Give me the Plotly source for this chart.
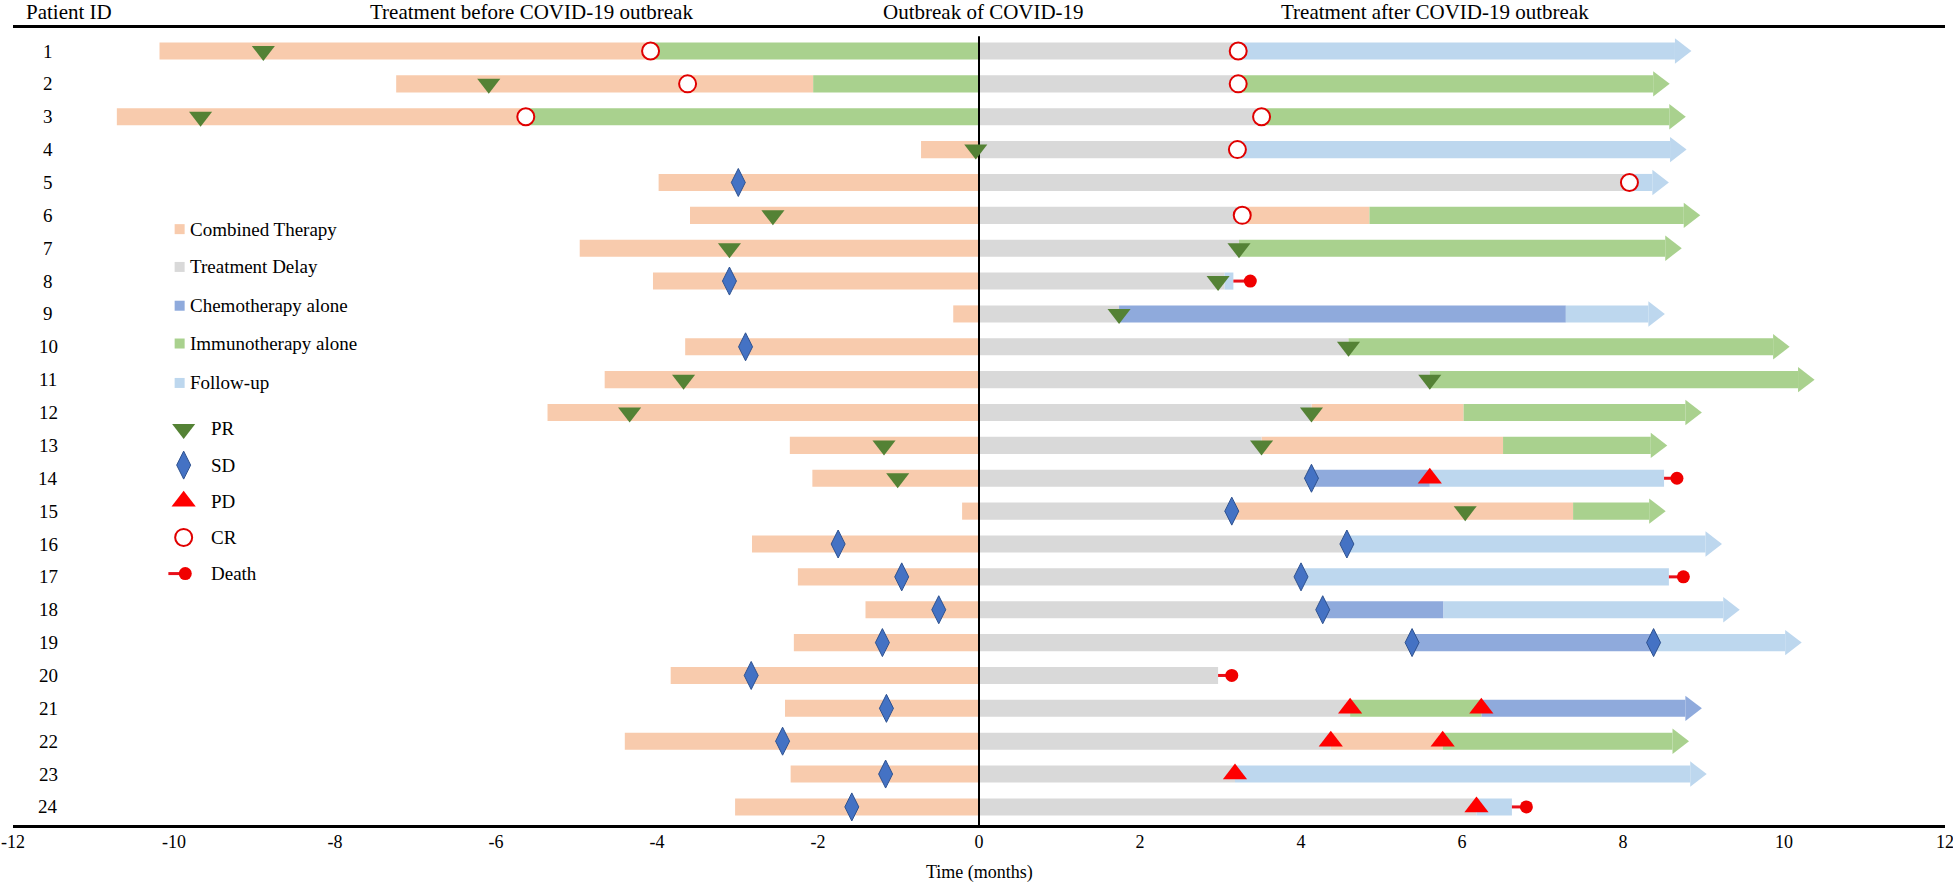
import plotly.graph_objects as go

# months relative to the COVID-19 outbreak (0)
patients = list(range(1, 25))

start = [-10.18, -7.24, -10.71, -0.72, -3.98, -3.59, -4.96, -4.05, -0.32, -3.65, -4.65, -5.36,
         -2.35, -2.07, -0.21, -2.82, -2.25, -1.41, -2.30, -3.83, -2.41, -4.40, -2.34, -3.03]

# C combined therapy, D treatment delay, H chemotherapy alone, I immunotherapy alone, F follow-up
phases = [
    ["C", "I", "D", "F"], ["C", "I", "D", "I"], ["C", "I", "D", "I"], ["C", "D", "F"],
    ["C", "D", "F"], ["C", "D", "C", "I"], ["C", "D", "I"], ["C", "D", "F"],
    ["C", "D", "H", "F"], ["C", "D", "I"], ["C", "D", "I"], ["C", "D", "C", "I"],
    ["C", "D", "C", "I"], ["C", "D", "H", "F"], ["C", "D", "C", "I"], ["C", "D", "F"],
    ["C", "D", "F"], ["C", "D", "H", "F"], ["C", "D", "H", "F"], ["C", "D"],
    ["C", "D", "I", "H"], ["C", "D", "C", "I"], ["C", "D", "F"], ["C", "D", "F"],
]
ends = [
    [-4.08, 0, 3.22, 8.85], [-2.06, 0, 3.22, 8.58], [-5.63, 0, 3.51, 8.78], [0, 3.21, 8.79],
    [0, 8.08, 8.57], [0, 3.27, 4.85, 8.96], [0, 3.23, 8.73], [0, 3.05, 3.16],
    [0, 1.74, 7.29, 8.52], [0, 4.59, 10.07], [0, 5.60, 10.38], [0, 4.13, 6.02, 8.98],
    [0, 3.51, 6.51, 8.55], [0, 4.13, 5.60, 8.51], [0, 3.14, 7.38, 8.53], [0, 4.57, 9.23],
    [0, 4.00, 8.57], [0, 4.27, 5.77, 9.45], [0, 5.38, 8.38, 10.22], [0, 2.97],
    [0, 4.61, 6.24, 8.98], [0, 4.37, 5.76, 8.82], [0, 3.18, 9.04], [0, 6.18, 6.62],
]
ongoing = [1, 1, 1, 1, 1, 1, 1, 0, 1, 1, 1, 1, 1, 0, 1, 1, 0, 1, 1, 0, 1, 1, 1, 0]

pr_pat = [1, 2, 3, 4, 6, 7, 7, 8, 9, 10, 11, 11, 12, 12, 13, 13, 14, 15]
pr_t = [-8.89, -6.09, -9.67, -0.04, -2.56, -3.10, 3.23, 2.97, 1.74, 4.59, -3.67, 5.60,
        -4.34, 4.13, -1.18, 3.51, -1.01, 6.04]
sd_pat = [5, 8, 10, 14, 15, 16, 16, 17, 17, 18, 18, 19, 19, 19, 20, 21, 22, 23, 24]
sd_t = [-2.99, -3.10, -2.90, 4.13, 3.14, -1.75, 4.57, -0.96, 4.00, -0.50, 4.27, -1.20,
        5.38, 8.38, -2.83, -1.15, -2.44, -1.16, -1.58]
pd_pat = [14, 21, 21, 22, 22, 23, 24]
pd_t = [5.60, 4.61, 6.24, 4.37, 5.76, 3.18, 6.18]
cr_pat = [1, 1, 2, 2, 3, 3, 4, 5, 6]
cr_t = [-4.08, 3.22, -3.62, 3.22, -5.63, 3.51, 3.21, 8.08, 3.27]
death_pat = [8, 14, 17, 20, 24]
death_t = [3.37, 8.67, 8.75, 3.14, 6.80]

tick_vals = list(range(-12, 13, 2))
tick_text = [str(v) for v in tick_vals]

phase_names = {"C": "Combined Therapy", "D": "Treatment Delay", "H": "Chemotherapy alone",
               "I": "Immunotherapy alone", "F": "Follow-up"}
colors = {"C": "#F8CBAD", "D": "#D9D9D9", "H": "#8FAADC", "I": "#A9D18E", "F": "#BDD7EE"}

W, H = 1953, 883
ml, mr, mt, mb = 13, 8, 28, 58
ppm = (W - ml - mr) / 24.0
FONT = "Liberation Serif, Times New Roman, serif"
BAR_W = 0.52
head_r = 11
head_len = 1.5 * head_r / ppm

seg = {k: {"y": [], "base": [], "x": []} for k in colors}
heads = {"x": [], "y": [], "c": []}
dline_x, dline_y = [], []
for i, p in enumerate(patients):
    b = start[i]
    n = len(ends[i])
    for j in range(n):
        ph = phases[i][j]
        e = ends[i][j]
        if j == n - 1 and ongoing[i]:
            heads["x"].append(e - head_r / ppm)
            heads["y"].append(p)
            heads["c"].append(colors[ph])
            e = e - head_len
        seg[ph]["y"].append(p)
        seg[ph]["base"].append(b)
        seg[ph]["x"].append(e - b)
        b = ends[i][j]

for p, t in zip(death_pat, death_t):
    dline_x += [ends[p - 1][-1], t, None]
    dline_y += [p, p, None]

fig = go.Figure()
for k in ["C", "D", "H", "I", "F"]:
    fig.add_trace(go.Bar(orientation="h", y=seg[k]["y"], x=seg[k]["x"], base=seg[k]["base"],
                         width=BAR_W, marker=dict(color=colors[k], line=dict(width=0)),
                         name=phase_names[k]))

fig.add_trace(go.Scatter(x=heads["x"], y=heads["y"], mode="markers",
                         marker=dict(symbol="triangle-right", size=2 * head_r, color=heads["c"],
                                     line=dict(width=0))))

# outbreak line
fig.add_trace(go.Scatter(x=[0, 0], y=[0.55, 24.55], mode="lines",
                         line=dict(color="black", width=2)))

fig.add_trace(go.Scatter(x=dline_x, y=dline_y, mode="lines", line=dict(color="#E8101A", width=3)))

mk = dict(
    PR=dict(symbol="triangle-down", size=20, color="#548235", line=dict(width=0)),
    SD=dict(symbol="diamond-tall", size=20, color="#4472C4", line=dict(color="#2F528F", width=1)),
    PD=dict(symbol="triangle-up", size=21, color="#FF0000", line=dict(width=0)),
    CR=dict(symbol="circle", size=17, color="white", line=dict(color="#E00000", width=2)),
    Death=dict(symbol="circle", size=13, color="#F00000", line=dict(width=0)),
)
fig.add_trace(go.Scatter(x=pr_t, y=pr_pat, mode="markers", marker=mk["PR"], name="PR"))
fig.add_trace(go.Scatter(x=sd_t, y=sd_pat, mode="markers", marker=mk["SD"], name="SD"))
fig.add_trace(go.Scatter(x=pd_t, y=pd_pat, mode="markers", marker=mk["PD"], name="PD"))
fig.add_trace(go.Scatter(x=cr_t, y=cr_pat, mode="markers", marker=mk["CR"], name="CR"))
fig.add_trace(go.Scatter(x=death_t, y=death_pat, mode="markers", marker=mk["Death"], name="Death"))

# hand-placed legend inside the plot
annotations = []
leg_rows = [6.42, 7.57, 8.75, 9.9, 11.1]
for k, yy in zip(["C", "D", "H", "I", "F"], leg_rows):
    fig.add_trace(go.Scatter(x=[-9.93], y=[yy], mode="markers",
                             marker=dict(symbol="square", size=10, color=colors[k])))
    annotations.append(dict(x=-9.82, y=yy, text=phase_names[k], xanchor="left", yanchor="middle",
                            showarrow=False, font=dict(size=19)))
mk_rows = [12.5, 13.6, 14.7, 15.8, 16.9]
for k, yy in zip(["PR", "SD", "PD", "CR", "Death"], mk_rows):
    if k == "Death":
        fig.add_trace(go.Scatter(x=[-10.07, -9.86], y=[yy, yy], mode="lines",
                                 line=dict(color="#E8101A", width=3)))
        fig.add_trace(go.Scatter(x=[-9.86], y=[yy], mode="markers", marker=mk[k]))
    else:
        fig.add_trace(go.Scatter(x=[-9.88], y=[yy], mode="markers", marker=mk[k]))
    annotations.append(dict(x=-9.57, y=yy, text=k, xanchor="left", yanchor="middle",
                            showarrow=False, font=dict(size=19)))

for p in patients:
    annotations.append(dict(x=-11.56, y=p, text=str(p), xanchor="center", yanchor="middle",
                            showarrow=False, font=dict(size=19)))

head_y = 1 + (mt - 12) / (H - mt - mb)
for txt, xx in [("Patient ID", -11.3), ("Treatment before COVID-19 outbreak", -5.56),
                ("Outbreak of COVID-19", 0.05), ("Treatment after COVID-19 outbreak", 5.67)]:
    annotations.append(dict(x=xx, y=head_y, yref="paper", text=txt, xanchor="center",
                            yanchor="middle", showarrow=False, font=dict(size=21)))
annotations.append(dict(x=0, y=-0.059, yref="paper", text="Time (months)", xanchor="center",
                        yanchor="middle", showarrow=False, font=dict(size=18)))

fig.update_layout(
    width=W, height=H,
    margin=dict(l=ml, r=mr, t=mt, b=mb),
    barmode="overlay",
    showlegend=False,
    hovermode=False,
    plot_bgcolor="white", paper_bgcolor="white",
    font=dict(family=FONT, color="black"),
    annotations=annotations,
    xaxis=dict(range=[-12, 12], tickvals=tick_vals, ticktext=tick_text, showgrid=False,
               zeroline=False, showline=True, mirror=True, linecolor="black", linewidth=2.5,
               ticks="", ticklabelstandoff=-1, tickfont=dict(size=18), automargin=False,
               ticklabeloverflow="allow"),
    yaxis=dict(range=[24.55, 0.3], showticklabels=False, showgrid=False, zeroline=False,
               showline=False, automargin=False),
)
# drop the default 8px page margin so the figure sits at the window corner
fig.write_html("out.html", config={"displayModeBar": False},
               post_script="document.body.style.margin='0';document.body.style.overflow='hidden';")
